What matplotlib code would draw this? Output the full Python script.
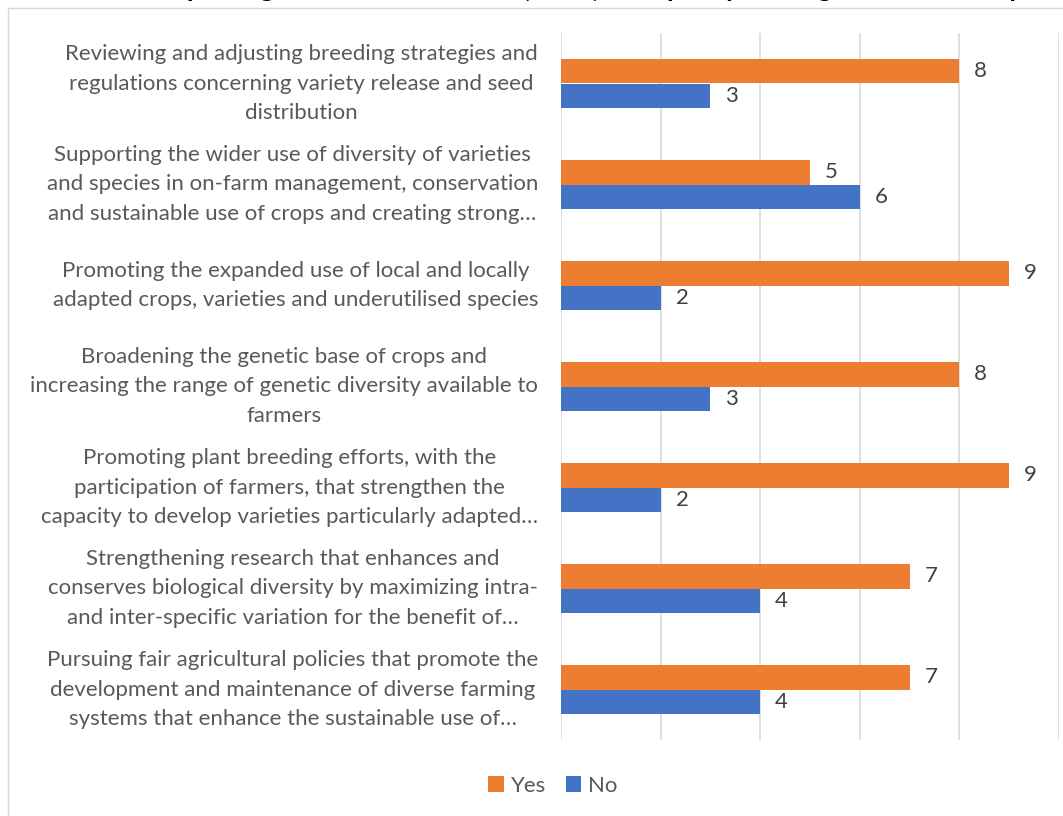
import numpy as np
import matplotlib.pyplot as plt
from matplotlib.patches import Rectangle

plt.rcParams['font.family'] = ['Lato', 'DejaVu Sans']

# kategoriyalar (yuqoridan pastga)
categories = [
    "Reviewing and adjusting breeding strategies and\nregulations concerning variety release and seed\ndistribution",
    "Supporting the wider use of diversity of varieties\nand species in on-farm management, conservation\nand sustainable use of crops and creating strong…",
    "Promoting the expanded use of local and locally\nadapted crops, varieties and underutilised species",
    "Broadening the genetic base of crops and\nincreasing the range of genetic diversity available to\nfarmers",
    "Promoting plant breeding efforts, with the\nparticipation of farmers, that strengthen the\ncapacity to develop varieties particularly adapted…",
    "Strengthening research that enhances and\nconserves biological diversity by maximizing intra-\nand inter-specific variation for the benefit of…",
    "Pursuing fair agricultural policies that promote the\ndevelopment and maintenance of diverse farming\nsystems that enhance the sustainable use of…",
]
yes_vals = [8, 5, 9, 8, 9, 7, 7]
no_vals = [3, 6, 2, 3, 2, 4, 4]
title = "Number of reporting countries from Asia (n=11) with policy and legal measures in place to"

orange = '#ED7D31'
blue = '#4472C4'
grey_txt = '#595959'
fs = 16

fig = plt.figure(figsize=(10.63, 8.16), dpi=100)

# ramka
fig.patches.append(Rectangle((8 / 1063, -0.01), 1.1, 1 - 8 / 816 + 0.01,
                             transform=fig.transFigure, fill=False,
                             edgecolor='#D9D9D9', linewidth=1))

# sarlavha (kesilgan)
fig.text(25 / 1063, 1 + 3 / 816, title, ha='left', va='baseline',
         fontsize=19.5, fontweight='bold', color='black')

ax = fig.add_axes([561 / 1063, 1 - 740 / 816, 498 / 1063, 707 / 816])

n = len(categories)
y = np.arange(n)
h = 0.24
ax.barh(y - h / 2, yes_vals, height=h, color=orange, label='Yes', zorder=3)
ax.barh(y + h / 2, no_vals, height=h, color=blue, label='No', zorder=3)

for i in range(n):
    ax.text(yes_vals[i] + 0.3, y[i] - h / 2, str(yes_vals[i]), va='center',
            ha='left', fontsize=fs, color='#404040')
    ax.text(no_vals[i] + 0.3, y[i] + h / 2, str(no_vals[i]), va='center',
            ha='left', fontsize=fs, color='#404040')

ax.set_xlim(0, 10)
ax.set_ylim(n - 0.5, -0.5)
ax.set_xticks(np.arange(0, 11, 2))
ax.set_xticklabels([])
ax.tick_params(axis='x', length=0)
ax.grid(axis='x', color='#D9D9D9', linewidth=1.2, zorder=0)
for s in ax.spines.values():
    s.set_visible(False)

ax.set_yticks(y)
ax.set_yticklabels([])
ax.tick_params(axis='y', length=0)
for i, c in enumerate(categories):
    ax.text(-0.46, y[i], c, ha='right', va='center', multialignment='center',
            fontsize=fs, color=grey_txt, linespacing=1.6,
            transform=ax.transData)

leg = fig.legend(loc='center', bbox_to_anchor=(553 / 1063, 1 - 786 / 816),
                 ncol=2, frameon=False, fontsize=fs, handlelength=0.7,
                 handleheight=0.7, handletextpad=0.3, columnspacing=0.9)
for t in leg.get_texts():
    t.set_color(grey_txt)

plt.savefig('out.png', dpi=100)
